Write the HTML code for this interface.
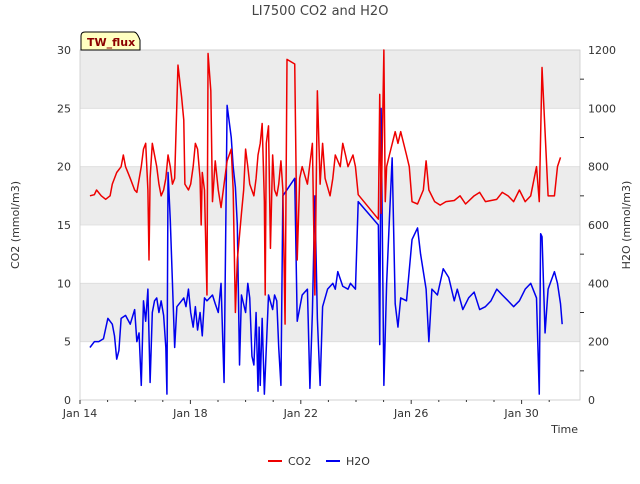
<!DOCTYPE html>
<html><head><meta charset="utf-8"><style>
body{margin:0;background:#fff;font-family:"DejaVu Sans","Liberation Sans",sans-serif;}
svg text{font-family:"DejaVu Sans","Liberation Sans",sans-serif;}
</style></head><body>
<svg id="chart" width="640" height="480" xmlns="http://www.w3.org/2000/svg"></svg>
<script>
const xTickLabels=["Jan 14","Jan 18","Jan 22","Jan 26","Jan 30"];
const xTickDays=[0,4,8,12,16];
const leftTicks=[0,5,10,15,20,25,30];
const rightTicks=[0,200,400,600,800,1000,1200];
const co2Days=[0.36,0.52,0.60,0.77,0.93,1.09,1.17,1.33,1.49,1.57,1.65,1.82,1.98,2.06,2.22,2.30,2.38,2.46,2.50,2.54,2.62,2.70,2.78,2.86,2.94,3.03,3.11,3.19,3.27,3.35,3.43,3.55,3.68,3.76,3.80,3.93,4.01,4.10,4.18,4.26,4.35,4.39,4.43,4.51,4.60,4.64,4.74,4.80,4.90,5.01,5.11,5.33,5.48,5.55,5.63,5.70,5.85,5.93,6.00,6.08,6.15,6.30,6.38,6.45,6.53,6.60,6.68,6.71,6.75,6.83,6.90,6.98,7.05,7.13,7.20,7.28,7.35,7.43,7.50,7.78,7.87,7.96,8.05,8.24,8.42,8.51,8.60,8.70,8.79,8.88,9.06,9.16,9.25,9.43,9.52,9.62,9.71,9.89,9.98,10.08,10.81,10.86,10.91,11.01,11.06,11.11,11.21,11.42,11.52,11.62,11.83,11.93,12.03,12.23,12.44,12.54,12.64,12.85,13.05,13.26,13.56,13.77,13.97,14.28,14.48,14.69,15.10,15.30,15.51,15.71,15.92,16.13,16.33,16.54,16.64,16.74,16.91,16.96,17.19,17.30,17.41];
const co2Values=[17.5,17.6,18,17.5,17.2,17.5,18.5,19.5,20,21,20,19,18,17.8,20,21.5,22,18,12,19,22,21,20,18.5,17.5,18,19,21,20,18.5,19,28.7,26,24,18.5,18,18.5,20,22,21.5,19,15,19.5,18,9,29.7,26.5,17,20.5,18,16.5,20.5,21.5,18,7.5,12,16,18,21.5,20,18.5,17.5,19,21,22,23.7,17,9,22,23.5,13,21,18,17.5,18.5,20.5,18,6.5,29.2,28.8,12,19,20,18.5,22,9,26.5,18.5,22,19,17.5,19,21,20,22,21,20,21,20,17.6,15.5,26.2,16,30,17,20,21,23,22,23,21,20,17,16.8,18,20.5,18,17,16.7,17,17.1,17.5,16.8,17.5,17.8,17,17.2,17.8,17.5,17,18,17,17.5,20,17,28.5,20,17.5,17.5,20,20.8];
const h2oDays=[0.36,0.52,0.68,0.85,1.01,1.17,1.25,1.33,1.41,1.49,1.65,1.82,1.98,2.06,2.14,2.22,2.30,2.38,2.46,2.54,2.62,2.70,2.78,2.86,2.94,3.03,3.11,3.15,3.19,3.27,3.43,3.51,3.68,3.76,3.84,3.93,4.01,4.10,4.18,4.26,4.35,4.43,4.51,4.60,4.80,4.90,5.01,5.11,5.22,5.33,5.48,5.55,5.63,5.70,5.78,5.85,6.00,6.08,6.15,6.23,6.30,6.38,6.45,6.49,6.53,6.60,6.68,6.83,6.98,7.05,7.13,7.20,7.28,7.35,7.78,7.87,8.05,8.24,8.33,8.42,8.51,8.60,8.70,8.79,8.97,9.16,9.25,9.34,9.52,9.71,9.80,9.98,10.08,10.81,10.86,10.91,11.01,11.11,11.21,11.31,11.42,11.52,11.62,11.83,12.03,12.23,12.34,12.54,12.64,12.75,12.95,13.16,13.36,13.56,13.67,13.87,14.08,14.28,14.48,14.69,14.89,15.10,15.30,15.51,15.71,15.92,16.13,16.33,16.54,16.64,16.69,16.74,16.85,16.96,17.19,17.30,17.41,17.47];
const h2oValues=[180,200,200,210,280,260,220,140,170,280,290,260,310,200,230,50,340,270,380,60,300,340,350,300,340,290,180,20,780,620,180,320,340,350,320,380,300,250,320,240,300,220,350,340,360,330,300,400,60,1010,900,800,730,600,120,360,300,400,350,150,120,300,30,250,50,280,20,360,310,360,340,180,50,700,760,270,360,380,40,300,700,280,50,320,380,400,380,440,390,380,400,380,680,600,190,1000,50,400,620,830,330,250,350,340,550,590,500,380,200,380,360,450,420,340,380,310,350,370,310,320,340,380,360,340,320,340,380,400,350,20,570,560,230,380,440,400,330,260];

const NS="http://www.w3.org/2000/svg";
const svg=document.getElementById('chart');
const L=80,R=580,T=50,B=400;
const xS=d=>L+d*27.6;
const yL=v=>B-(v/30)*(B-T);
const yR=v=>B-(v/1200)*(B-T);
function mk(tag,attrs,parent){const e=document.createElementNS(NS,tag);for(const k in attrs)e.setAttribute(k,attrs[k]);(parent||svg).appendChild(e);return e;}
function txt(s,attrs){const e=mk('text',attrs);e.textContent=s;return e;}

[[25,30],[15,20],[5,10]].forEach(b=>{
  const r=mk('rect',{x:L,y:yL(b[1]),width:R-L,height:yL(b[0])-yL(b[1]),fill:'#ececec'});
  
  
});
leftTicks.forEach(v=>{mk('line',{x1:L,x2:R,y1:yL(v),y2:yL(v),stroke:'#dcdcdc','stroke-width':0.8});});
mk('rect',{x:L,y:T,width:R-L,height:B-T,fill:'none',stroke:'#ccc','stroke-width':0.8});

leftTicks.forEach(v=>{const t=txt(String(v),{x:L-9,y:yL(v)+4,'text-anchor':'end','font-size':11,fill:'#333'});});
rightTicks.forEach(v=>{const t=txt(String(v),{x:R+8,y:yR(v)+4,'text-anchor':'start','font-size':11,fill:'#333'});});
[100,300,500,700,900,1100].forEach(v=>mk('line',{x1:R,x2:R+4,y1:yR(v),y2:yR(v),stroke:'#333'}));
xTickDays.forEach((d,i)=>{
  mk('line',{x1:xS(d),x2:xS(d),y1:B,y2:B+4,stroke:'#333'});
  const t=txt(xTickLabels[i],{x:xS(d),y:B+17,'text-anchor':'middle','font-size':11,fill:'#333'});
  
});
for(let d=1;d<18;d++){if(d%4)mk('line',{x1:xS(d),x2:xS(d),y1:B,y2:B+2,stroke:'#333'});}

function line(days,vals,ys,color,name){
  const p=mk('polyline',{points:days.map((d,i)=>xS(d)+','+ys(vals[i])).join(' '),fill:'none',stroke:color,'stroke-width':1.5,'stroke-linejoin':'round'});
  
}
line(h2oDays,h2oValues,yR,'#0000ee','h2o-line');
line(co2Days,co2Values,yL,'#ee0000','co2-line');

let t=txt('LI7500 CO2 and H2O',{x:320,y:15,'text-anchor':'middle','font-size':13,fill:'#444'});
t=txt('CO2 (mmol/m3)',{x:19,y:225,'text-anchor':'middle','font-size':11,fill:'#333',transform:'rotate(-90 19 225)'});
t=txt('H2O (mmol/m3)',{x:630,y:225,'text-anchor':'middle','font-size':11,fill:'#333',transform:'rotate(-90 630 225)'});
t=txt('Time',{x:578,y:433,'text-anchor':'end','font-size':11,fill:'#333'});

const g=mk('g',{});
mk('path',{d:'M81,50 L81,36 Q81,32 85,32 L134,32 Q137,32 140,40 L140,50 Z',fill:'#ffffc0',stroke:'#000','stroke-width':1},g);
const tt=mk('text',{x:87,y:46,'font-size':11,'font-weight':'bold',fill:'#8b0000'},g);tt.textContent='TW_flux';

const lg=mk('g',{});
mk('line',{x1:268,x2:282,y1:461,y2:461,stroke:'#ee0000','stroke-width':2},lg);
let e=mk('text',{x:288,y:465,'font-size':11,fill:'#333'},lg);e.textContent='CO2';
mk('line',{x1:326,x2:340,y1:461,y2:461,stroke:'#0000ee','stroke-width':2},lg);
e=mk('text',{x:346,y:465,'font-size':11,fill:'#333'},lg);e.textContent='H2O';
</script>
</body></html>
